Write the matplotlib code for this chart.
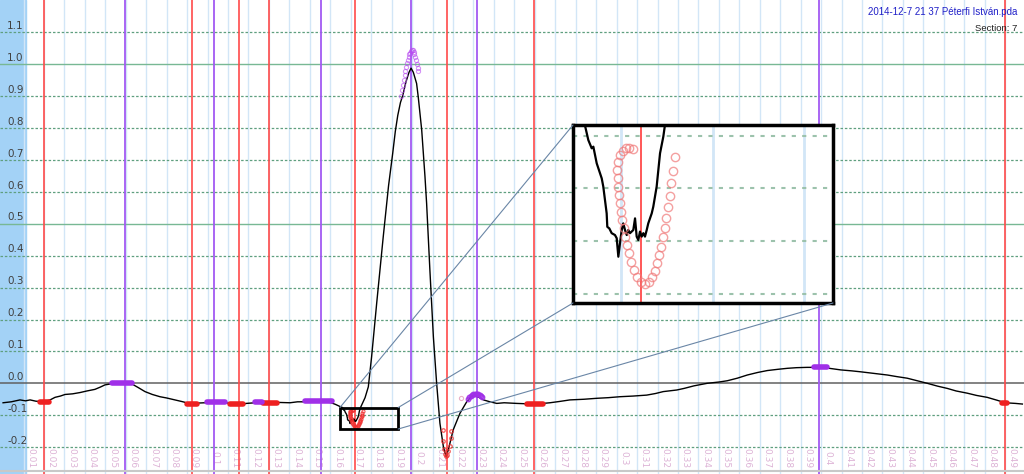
import numpy as np
import matplotlib.pyplot as plt
from matplotlib.patches import Rectangle, ConnectionPatch

# ECG trace (seconds, mV)
trace_t = [0.0000, 0.0040, 0.0083, 0.0110, 0.0132, 0.0160, 0.0200, 0.0230, 0.0254, 0.0280,
           0.0303, 0.0340, 0.0376, 0.0410, 0.0449, 0.0475, 0.0498, 0.0525, 0.0547, 0.0575,
           0.0596, 0.0630, 0.0660, 0.0694, 0.0730, 0.0767, 0.0800, 0.0841, 0.0880, 0.0919,
           0.0950, 0.0987, 0.1036, 0.1080, 0.1120, 0.1154, 0.1190, 0.1232, 0.1270, 0.1305,
           0.1350, 0.1403, 0.1440, 0.1476, 0.1520, 0.1550, 0.1600, 0.1625, 0.1645, 0.1660,
           0.16638, 0.16675, 0.16693, 0.1673, 0.16766, 0.16785, 0.16802, 0.16821, 0.16839, 0.16846,
           0.16868, 0.16894, 0.1693, 0.16949, 0.16967, 0.16985, 0.17004, 0.17021, 0.1704, 0.17059,
           0.17076, 0.17095, 0.17131, 0.1715, 0.17168, 0.17186, 0.17204, 0.17223, 0.17241, 0.17259,
           0.17278, 0.17295, 0.17333, 0.1735, 0.17387, 0.17405, 0.17424, 0.1746, 0.17478, 0.1770,
           0.1786, 0.1802, 0.1827, 0.1859, 0.1885, 0.1905, 0.1918, 0.1930, 0.1943, 0.1955,
           0.1970, 0.1985, 0.1995, 0.2006, 0.2022, 0.2030, 0.2047, 0.2063, 0.2071, 0.2087,
           0.2104, 0.2120, 0.2136, 0.2153, 0.2166, 0.2177, 0.2201, 0.2234, 0.2267, 0.2291,
           0.2316, 0.2349, 0.2381, 0.2414, 0.2450, 0.2511, 0.2560, 0.2593, 0.2640, 0.2674,
           0.2720, 0.2772, 0.2840, 0.2903, 0.2960, 0.3017, 0.3080, 0.3147, 0.3190, 0.3228,
           0.3294, 0.3330, 0.3378, 0.3443, 0.3500, 0.3541, 0.3590, 0.3639, 0.3690, 0.3737,
           0.3790, 0.3835, 0.3880, 0.3932, 0.3990, 0.4040, 0.4096, 0.4150, 0.4194, 0.4260,
           0.4324, 0.4370, 0.4421, 0.4470, 0.4519, 0.4570, 0.4617, 0.4660, 0.4715, 0.4760,
           0.4812, 0.4860, 0.4900, 0.4950, 0.4984]
trace_v = [-0.061, -0.058, -0.052, -0.055, -0.052, -0.056, -0.058, -0.052, -0.044, -0.040,
           -0.035, -0.033, -0.029, -0.024, -0.019, -0.012, -0.005, -0.002, 0.000, 0.002,
           0.003, -0.002, -0.013, -0.026, -0.035, -0.042, -0.046, -0.052, -0.058, -0.065,
           -0.062, -0.061, -0.061, -0.060, -0.064, -0.066, -0.063, -0.061, -0.062, -0.063,
           -0.060, -0.061, -0.058, -0.058, -0.057, -0.058, -0.060, -0.066, -0.072, -0.076,
           -0.0817, -0.0848, -0.0842, -0.0905, -0.0943, -0.0962, -0.0993, -0.1044, -0.1094, -0.1145,
           -0.1151, -0.1169, -0.1176, -0.1188, -0.1258, -0.1207, -0.1157, -0.1132, -0.1157, -0.1176,
           -0.1157, -0.1169, -0.1157, -0.1113, -0.1182, -0.1195, -0.1163, -0.1182, -0.1169, -0.1182,
           -0.1157, -0.1132, -0.1094, -0.1069, -0.0993, -0.0930, -0.0867, -0.0804, -0.0760, -0.045,
           -0.011, 0.083, 0.252, 0.460, 0.620, 0.720, 0.790, 0.840, 0.880, 0.904,
           0.945, 0.975, 0.988, 0.975, 0.940, 0.898, 0.794, 0.648, 0.564, 0.355,
           0.146, 0.000, -0.125, -0.199, -0.230, -0.209, -0.146, -0.094, -0.058, -0.040,
           -0.040, -0.052, -0.058, -0.063, -0.061, -0.063, -0.064, -0.065, -0.063, -0.061,
           -0.057, -0.052, -0.050, -0.047, -0.045, -0.042, -0.040, -0.037, -0.032, -0.026,
           -0.021, -0.016, -0.008, 0.000, 0.004, 0.008, 0.016, 0.026, 0.034, 0.040,
           0.044, 0.047, 0.049, 0.050, 0.050, 0.047, 0.042, 0.039, 0.036, 0.031,
           0.026, 0.021, 0.016, 0.008, 0.000, -0.009, -0.016, -0.024, -0.031, -0.038,
           -0.044, -0.053, -0.061, -0.063, -0.065]

# fitted points around Q (red), R (purple), S (red), J (purple)
q_fit_t = [0.17124, 0.17088, 0.17051, 0.17015, 0.16985, 0.16967, 0.16956, 0.1696, 0.16967, 0.16974,
           0.16985, 0.16996, 0.17011, 0.17025, 0.17044, 0.17062, 0.17084, 0.1711, 0.17139, 0.17175,
           0.17215, 0.17259, 0.173, 0.17336, 0.17365, 0.17391, 0.17413, 0.17435, 0.17457, 0.17475,
           0.17493, 0.17511, 0.1753, 0.17548, 0.1757, 0.17592]
q_fit_v = [-0.0852, -0.0848, -0.0848, -0.0857, -0.0873, -0.0899, -0.0930, -0.0962, -0.0993, -0.1025,
           -0.1056, -0.1088, -0.1119, -0.1151, -0.1182, -0.1214, -0.1245, -0.1277, -0.1308, -0.1336,
           -0.1355, -0.1362, -0.1355, -0.1336, -0.1311, -0.1283, -0.1252, -0.1220, -0.1185, -0.1151,
           -0.1113, -0.1071, -0.1028, -0.0981, -0.0933, -0.0880]
r_fit_t = [0.1947, 0.1951, 0.1955, 0.1959, 0.1963, 0.1967, 0.1971, 0.1975, 0.1979, 0.1983,
           0.1987, 0.1991, 0.1995, 0.1999, 0.2003, 0.2007, 0.2011, 0.2015, 0.2019, 0.2023,
           0.2027, 0.2030]
r_fit_v = [0.900, 0.918, 0.935, 0.951, 0.966, 0.980, 0.993, 1.004, 1.014, 1.023,
           1.031, 1.037, 1.042, 1.045, 1.044, 1.040, 1.033, 1.024, 1.013, 1.000,
           0.988, 0.978]
s_fit_t = [0.2150, 0.2153, 0.2158, 0.2163, 0.2168, 0.2173, 0.2178, 0.2183, 0.2188, 0.2192]
s_fit_v = [-0.146, -0.180, -0.205, -0.222, -0.229, -0.225, -0.212, -0.195, -0.172, -0.150]
j_fit_t = [0.2274, 0.2280, 0.2287, 0.2293, 0.2300, 0.2306, 0.2312, 0.2318, 0.2324, 0.2330, 0.2336, 0.2342]
j_fit_v = [-0.049, -0.044, -0.040, -0.037, -0.035, -0.034, -0.034, -0.034, -0.035, -0.037, -0.040, -0.043]
stray_t = [0.2239]
stray_v = [-0.047]

# highlighted stretches of the trace: (start, end, level)
red_spans = [(0.0180, 0.0225, -0.058), (0.0898, 0.0947, -0.064), (0.1110, 0.1174, -0.066),
             (0.1272, 0.1338, -0.061), (0.2560, 0.2642, -0.064), (0.4885, 0.4910, -0.061)]
purple_spans = [(0.0535, 0.0632, 0.001), (0.0996, 0.1085, -0.059), (0.1232, 0.1265, -0.059),
                (0.1476, 0.1607, -0.056), (0.3965, 0.4030, 0.050)]

red_marks = [0.0201, 0.0922, 0.1155, 0.1302, 0.1721, 0.2172, 0.2596, 0.4900]
purple_marks = [0.0596, 0.1031, 0.1553, 0.1995, 0.2316, 0.3990]

x_ticks = [round(0.01 * i, 2) for i in range(1, 50)]
y_ticks = [round(0.1 * i, 1) for i in range(-2, 12)]

zoom_t = (0.1647, 0.1932)
zoom_v = (-0.1433, -0.0760)
zoom_grid_v = [-0.08, -0.10, -0.12, -0.14]

fig = plt.figure(figsize=(10.24, 4.74), dpi=100)
ax = fig.add_axes([0, 0, 1, 1])
ax.set_xlim(-0.0015, 0.4992)
ax.set_ylim(-0.2843, 1.2016)
ax.axis('off')

ax.add_patch(Rectangle((0, 0), 0.0254, 1, transform=ax.transAxes,
                       color='#a3d2f6', zorder=0.5))

for t in x_ticks:
    ax.axvline(t, color='#d2e6f7', lw=1, zorder=1)
    ax.text(t + 0.0035, -0.235, f'{t:g}', rotation=-90, ha='center', va='center',
            fontsize=6.5, color='#ddb3d6', zorder=2)

for v in y_ticks:
    if v == 0:
        ax.axhline(v, color='#606060', lw=1.1, zorder=1.5)
    elif v in (0.5, 1.0):
        ax.axhline(v, color='#78b894', lw=1, zorder=1.5)
    else:
        ax.axhline(v, color='#5f9f7f', lw=0.9, ls=(0, (2, 1.5)), zorder=1.5)
    ax.text(0.007, v + 0.02, f'{v:.1f}', transform=ax.get_yaxis_transform(),
            ha='left', va='center', fontsize=7.5, color='#404040', zorder=3)

for t in red_marks:
    ax.axvline(t, color='#ff4a4a', lw=1.2, zorder=2)
for t in purple_marks:
    ax.axvline(t, color='#a259f2', lw=1.3, zorder=2)

ax.plot(trace_t, trace_v, color='black', lw=1.0, zorder=3)

for t0, t1, v in red_spans:
    ax.plot([t0, t1], [v, v], color='#ee2020', lw=4, solid_capstyle='round', zorder=4)
for t0, t1, v in purple_spans:
    ax.plot([t0, t1], [v, v], color='#a030e8', lw=4, solid_capstyle='round', zorder=4)

ax.plot(q_fit_t, q_fit_v, 'o', mfc='none', mec='#f03030', ms=2.2, mew=0.8, alpha=0.8, zorder=4)
ax.plot(s_fit_t, s_fit_v, 'o', mfc='none', mec='#f03030', ms=2.5, mew=0.9, alpha=0.8, zorder=4)
ax.plot(r_fit_t, r_fit_v, 'o', mfc='none', mec='#b84cf0', ms=3, mew=0.8, alpha=0.6, zorder=4)
ax.plot(j_fit_t, j_fit_v, 'o', mfc='none', mec='#a030e8', ms=3, mew=1.2, alpha=0.9, zorder=4)
ax.plot(stray_t, stray_v, 'o', mfc='none', mec='#e8b0c8', ms=3, mew=0.8, zorder=4)

ax.axhline(-0.2755, color='#c8c8c8', lw=1.5, zorder=2)

ax.text(0.994, 0.975, '2014-12-7 21 37 Péterfi István.pda', transform=ax.transAxes,
        ha='right', va='center', fontsize=7, family='Liberation Sans', color='#2020c8', zorder=5)
ax.text(0.994, 0.94, 'Section: 7', transform=ax.transAxes,
        ha='right', va='center', fontsize=6.8, family='Liberation Sans', color='#202020', zorder=5)

# zoom box
ax.add_patch(Rectangle((zoom_t[0], zoom_v[0]), zoom_t[1] - zoom_t[0], zoom_v[1] - zoom_v[0],
                       fill=False, ec='black', lw=2, zorder=5))

axins = fig.add_axes([573 / 1024, (474 - 303) / 474, 260 / 1024, 178 / 474])
axins.set_xlim(*zoom_t)
axins.set_ylim(*zoom_v)
axins.set_xticks([])
axins.set_yticks([])
for s in axins.spines.values():
    s.set_linewidth(2.5)
for t in [0.17, 0.18, 0.19]:
    axins.axvline(t, color='#d2e6f7', lw=2, zorder=1)
for v in zoom_grid_v:
    axins.axhline(v, color='#9cc2ac', lw=1.5, ls=(0, (2, 3)), zorder=1)
axins.axvline(red_marks[4], color='#ff4a4a', lw=1.3, zorder=2)
axins.plot(trace_t, trace_v, color='black', lw=1.6, zorder=3)
axins.plot(q_fit_t, q_fit_v, 'o', mfc='none', mec='#f07878', ms=6, mew=1, alpha=0.7, zorder=4)

for pa, pb in [((zoom_t[0], zoom_v[1]), (0, 1)), ((zoom_t[1], zoom_v[1]), (0, 0)),
               ((zoom_t[1], zoom_v[0]), (1, 0))]:
    con = ConnectionPatch(xyA=pa, coordsA=ax.transData, xyB=pb, coordsB=axins.transAxes,
                          color='#6a86a6', lw=0.8)
    fig.add_artist(con)

fig.savefig('out.png', dpi=100)
